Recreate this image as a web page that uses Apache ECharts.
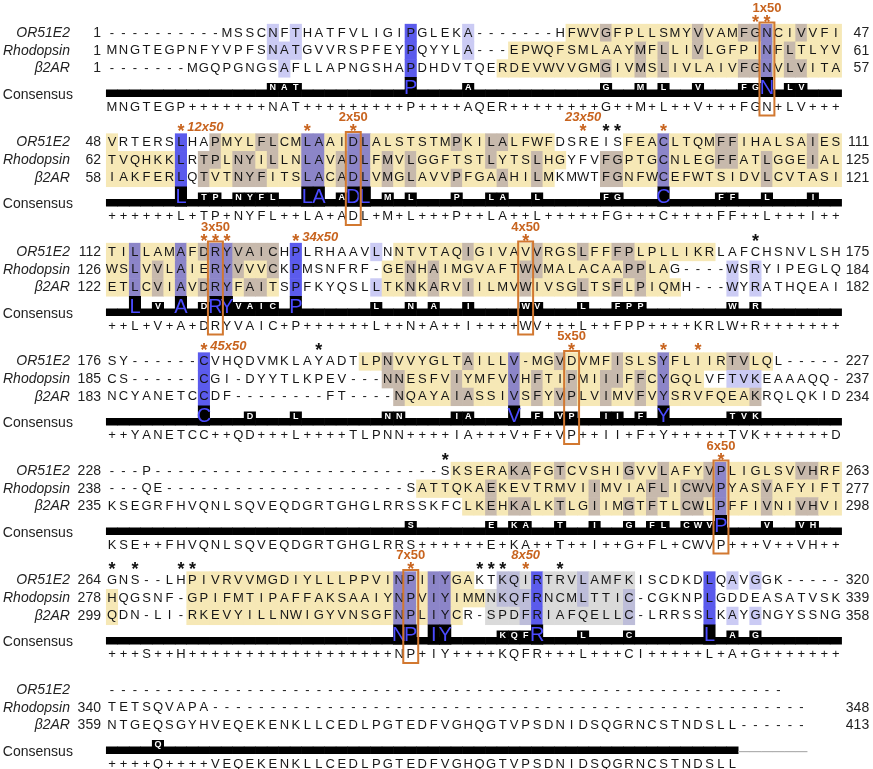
<!DOCTYPE html>
<html><head><meta charset="utf-8">
<script src="https://cdn.jsdelivr.net/npm/echarts/dist/echarts.min.js"></script>
<style>html,body{margin:0;padding:0;background:#fff}#c{width:873px;height:769px}</style>
</head><body><div id="c"></div>
<script>
// ================= DATA =================
const SEQ_NAMES = ["OR51E2", "Rhodopsin", "\u03B22AR"];
const OR51E2 = [
  "----------MSSCNFTHATFVLIGIPGLEKA-------HFWVGFPLLSMYVVAMFGNCIVVFI",
  "VRTERSLHAPMYLFLCMLAAIDLALSTSTMPKILALFWFDSREISFEACLTQMFFIHALSAIES",
  "TILLAMAFDRYVAICHPLRHAAVLNNTVTAQIGIVAVVRGSLFFFPLPLLIKRLAFCHSNVLSH",
  "SY------CVHQDVMKLAYADTLPNVVYGLTAILLV-MGVDVMFISLSYFLIIRTVLQL-----",
  "---P-------------------------SKSERAKAFGTCVSHIGVVLAFYVPLIGLSVVHRF",
  "GNS--LHPIVRVVMGDIYLLLPPVINPIIYGAKTKQIRTRVLAMFKISCDKDLQAVGGK-----",
  "-----------------------------------------------------------"
];
const RHODOPSIN = [
  "MNGTEGPNFYVPFSNATGVVRSPFEYPQYYLA---EPWQFSMLAAYMFLLIVLGFPINFLTLYV",
  "TVQHKKLRTPLNYILLNLAVADLFMVLGGFTSTLYTSLHGYFVFGPTGCNLEGFFATLGGEIAL",
  "WSLVVLAIERYVVVCKPMSNFRF-GENHAIMGVAFTWVMALACAAPPLAG----WSRYIPEGLQ",
  "CS------CGI-DYYTLKPEV---NNESFVIYMFVVHFTIPMIIIFFCYGQLVFTVKEAAAQQ-",
  "---QE---------------------SATTQKAEKEVTRMVIIMVIAFLICWVPYASVAFYIFT",
  "HQGSNF-GPIFMTIPAFFAKSAAIYNPVIYIMMNKQFRNCMLTTIC-CGKNPLGDDEASATVSK",
  "TETSQVAPA----------------------------------------------------"
];
const B2AR = [
  "-------MGQPGNGSAFLLAPNGSHAPDHDVTQERDEVWVVGMGIVMSLIVLAIVFGNVLVITA",
  "IAKFERLQTVTNYFITSLACADLVMGLAVVPFGAAHILMKMWTFGNFWCEFWTSIDVLCVTASI",
  "ETLCVIAVDRYFAITSPFKYQSLLTKNKARVIILMVWIVSGLTSFLPIQMH---WYRATHQEAI",
  "NCYANETCCDF--------FT----NQAYAIASSIVSFYVPLVIMVFVYSRVFQEAKRQLQKID",
  "KSEGRFHVQNLSQVEQDGRTGHGLRRSSKFCLKEHKALKTLGIIMGTFTLCWLPFFIVNIVHVI",
  "QDN-LI-RKEVYILLNWIGYVNSGFNPLIYCR-SPDFRIAFQELLC-LRRSSLKAYGNGYSSNG",
  "NTGEQSGYHVEQEKENKLLCEDLPGTEDFVGHQGTVPSDNIDSQGRNCSTNDSLL------"
];
const CONSENSUS = [
  "MNGTEGP+++++++NAT+++++++++P++++AQER++++++++G++M+L++V+++FGN+LV+++",
  "++++++L+TP+NYFL++LA+ADL+M+L+++P++LA++L+++++FG+++C++++FF++L+++I++",
  "++L+V+A+DRYVAIC+P++++++L++N+A++I++++WV+++L++FPP++++KRLW+R+++++++",
  "++YANETCC++QD+++L++++TLPNN++++IA+++V+F+VP++II+F+Y+++++TVK++++++D",
  "KSE++FHVQNLSQVEQDGRTGHGLRRS++++++E+KA++T++I++G+FL+CWVP+++V++VH++",
  "+++S++H++++++++++++++++++NP+IY++++KQFR+++L+++CI+++++L+A+G+++++++",
  "++++Q++++VEQEKENKLLCEDLPGTEDFVGHQGTVPSDNIDSQGRNCSTNDSLL"
];
const OR_START  = [1, 48, 112, 176, 228, 264, null];
const OR_END    = [47, 111, 175, 227, 263, 320, null];
const RHO_START = [1, 62, 126, 185, 238, 278, 340];
const RHO_END   = [61, 125, 184, 237, 277, 339, 348];
const B2_START  = [1, 58, 122, 183, 235, 299, 359];
const B2_END    = [57, 121, 182, 234, 298, 358, 413];

// transmembrane helix (yellow) column spans, per block
const OR_HELIX  = [[[41,64]], [[1,1],[10,39],[46,64]], [[1,15],[26,53]], [[23,58]], [[31,64]], [[8,32]], []];
const RHO_HELIX = [[[36,64]], [[1,6],[9,40],[44,64]], [[1,15],[25,49]], [[25,52]], [[28,64]], [[1,1],[8,33]], []];
const B2_HELIX  = [[[35,64]], [[1,6],[9,39],[44,64]], [[1,15],[25,50]], [[26,57]], [[32,64]], [[1,1],[8,31]], []];
// helix 8 (grey) column spans
const OR_H8  = [[], [], [], [], [], [[35,46]], []];
const RHO_H8 = [[], [], [], [], [], [[34,46]], []];
const B2_H8  = [[], [], [], [], [], [[34,46]], []];
// blocks / columns drawn without identity shading in the figure
const SHADED_BLOCKS = [true, true, true, true, true, true, false];
const UNSHADED_COLUMNS = [[3,13],[3,17],[4,27]];

// Ballesteros–Weinstein style labels: [block, column, text]
const BW_LABELS_ABOVE = [[0,58,"1x50"],[1,22,"2x50"],[2,10,"3x50"],[2,37,"4x50"],[3,41,"5x50"],[4,54,"6x50"],[5,27,"7x50"]];
const BW_LABELS_ITALIC_ABOVE = [[1,42,"23x50"],[5,37,"8x50"]];
const BW_LABELS_INLINE = [[1,7,"12x50"],[2,17,"34x50"],[3,9,"45x50"]];
const BW_BOXES = [[0,58],[1,22],[2,10],[2,37],[3,41],[4,54],[5,27]];
const ORANGE_STARS = [[0,57],[0,58],[1,7],[1,18],[1,22],[1,42],[1,49],[2,9],[2,10],[2,11],[2,17],[2,37],[3,9],[3,41],[3,49],[3,52],[4,54],[5,27],[5,37]];
const BLACK_STARS  = [[1,44],[1,45],[2,57],[3,19],[4,30],[5,1],[5,3],[5,7],[5,8],[5,33],[5,34],[5,35],[5,40]];

// ================= LAYOUT / STYLE =================
const LAY = {y0:33, blockStep:109.5, rowStep:17.7, consLabel:62, consText:74, bandTop:56.5, bandBot:64,
             bigTop:44, smallTop:50, smallBot:58.5, labelAbove:-25, star:-10, inline:-15, boxTop:-10.5, boxBot:82.5,
             nameX:-2.66, startX:0.04, endX:66.9, consNameX:-8.5};
const COL = {Y:'#f6e8b6', G:'#dadada', Y2:'#c7b9ac', Y3:'#8c85c8', W2:'#cbcbf4', W3:'#5b5bec', G2:'#bdbdd9', G3:'#5b5bec'};
const ORANGE = '#c8641f', BOXC = '#d27830';
const FONT = '"Liberation Sans", Arial, sans-serif';

const ROWS = [OR51E2, RHODOPSIN, B2AR];
const STARTS = [OR_START, RHO_START, B2_START];
const ENDS = [OR_END, RHO_END, B2_END];
const HELIX = [OR_HELIX, RHO_HELIX, B2_HELIX];
const H8 = [OR_H8, RHO_H8, B2_H8];
const inSpans = (sp, c) => sp.some(s => c >= s[0] && c <= s[1]);
const isRes = ch => ch && ch !== '-' && ch !== '+';

const cells = [], texts = [], band = [], logo = [], boxes = [];
for (let b = 0; b < CONSENSUS.length; b++) {
  const oy = LAY.y0 + LAY.blockStep * b;
  const cons = CONSENSUS[b];
  const width = Math.max(...ROWS.map(R => R[b].length));
  for (let r = 0; r < 3; r++) {
    const s = ROWS[r][b], y = oy + r * LAY.rowStep;
    texts.push({x: LAY.nameX, y, t: SEQ_NAMES[r], f: 'italic 14px ' + FONT, a: 'right', c: '#222'});
    if (STARTS[r][b] != null) texts.push({x: LAY.startX, y, t: String(STARTS[r][b]), f: '14px ' + FONT, a: 'right', c: '#222'});
    if (ENDS[r][b] != null) texts.push({x: LAY.endX, y, t: String(ENDS[r][b]), f: '14px ' + FONT, a: 'right', c: '#222'});
    for (let i = 0; i < s.length; i++) {
      const col = i + 1, ch = s[i];
      const bg = inSpans(HELIX[r][b], col) ? 'Y' : (inSpans(H8[r][b], col) ? 'G' : 'W');
      let n = 0;
      if (isRes(cons[i])) for (let k = 0; k < 3; k++) if (ROWS[k][b][i] === cons[i]) n++;
      const allowed = SHADED_BLOCKS[b] && !UNSHADED_COLUMNS.some(u => u[0] === b && u[1] === col);
      const lvl = (allowed && isRes(ch) && ch === cons[i] && n >= 2) ? (n === 3 ? '3' : '2') : '';
      const key = bg === 'W' ? (lvl ? 'W' + lvl : null) : bg + lvl;
      if (key) cells.push({x: col, y, c: COL[key]});
      texts.push({x: col, y, t: ch, f: '13px ' + FONT, a: 'center', c: '#161616'});
    }
  }
  // consensus
  texts.push({x: LAY.consNameX, y: oy + LAY.consLabel, t: 'Consensus', f: '14px ' + FONT, a: 'left', c: '#222'});
  for (let i = 0; i < cons.length; i++) texts.push({x: i + 1, y: oy + LAY.consText, t: cons[i], f: '13px ' + FONT, a: 'center', c: '#161616'});
  for (let i = 0; i < width; i++) {
    const any = ROWS.some(R => isRes(R[b][i]));
    band.push({x: i + 1, y0: oy + LAY.bandTop, y1: oy + LAY.bandBot, c: any ? '#000' : null, line: !any, ly: oy + 61});
    let n = 0;
    if (isRes(cons[i])) for (let k = 0; k < 3; k++) if (ROWS[k][b][i] === cons[i]) n++;
    if (n === 3) logo.push({x: i + 1, y0: oy + LAY.bigTop, y1: oy + LAY.bandBot, t: cons[i], big: true});
    else if (n === 2) logo.push({x: i + 1, y0: oy + LAY.smallTop, y1: oy + LAY.smallBot, t: cons[i], big: false});
  }
}
BW_BOXES.forEach(([b, c]) => { const oy = LAY.y0 + LAY.blockStep * b; boxes.push({x: c, y0: oy + LAY.boxTop, y1: oy + LAY.boxBot}); });
const annot = [];
BW_LABELS_ABOVE.forEach(([b, c, t]) => annot.push({x: c, y: LAY.y0 + LAY.blockStep * b + LAY.labelAbove, t, f: 'bold 13px ' + FONT, a: 'center', c: ORANGE}));
BW_LABELS_ITALIC_ABOVE.forEach(([b, c, t]) => annot.push({x: c, y: LAY.y0 + LAY.blockStep * b + LAY.labelAbove, t, f: 'italic bold 13px ' + FONT, a: 'center', c: ORANGE}));
BW_LABELS_INLINE.forEach(([b, c, t]) => annot.push({x: c + 0.55, y: LAY.y0 + LAY.blockStep * b + LAY.inline, t, f: 'italic bold 13px ' + FONT, a: 'left', c: ORANGE}));
ORANGE_STARS.forEach(([b, c]) => annot.push({x: c, y: LAY.y0 + LAY.blockStep * b + LAY.star, t: '*', f: 'bold 18px ' + FONT, a: 'center', c: ORANGE}));
BLACK_STARS.forEach(([b, c]) => annot.push({x: c, y: LAY.y0 + LAY.blockStep * b + LAY.star, t: '*', f: 'bold 18px ' + FONT, a: 'center', c: '#111'}));

// ================= CHART =================
const chart = echarts.init(document.getElementById('c'), null, {renderer: 'canvas'});
const colW = api => api.size([1, 0])[0];
const textRender = arr => (params, api) => {
  const d = arr[params.dataIndex], p = api.coord([d.x, d.y]);
  return {type: 'text', x: p[0], y: p[1], style: {text: d.t, fill: d.c, font: d.f, align: d.a, verticalAlign: 'middle'}};
};
const option = {
  animation: false,
  grid: {left: 112 - 11.49 / 2, width: 11.49 * 64, top: 0, height: 769},
  xAxis: {type: 'value', min: 0.5, max: 64.5, show: false},
  yAxis: {type: 'value', min: 0, max: 769, inverse: true, show: false},
  series: [
    {type: 'custom', clip: false, silent: true, data: cells.map(d => [d.x, d.y]), z: 1,
     renderItem: (params, api) => {
       const d = cells[params.dataIndex], p = api.coord([d.x, d.y]), w = colW(api), h = api.size([0, LAY.rowStep])[1];
       return {type: 'rect', shape: {x: p[0] - w / 2 - 0.3, y: p[1] - h / 2 - 0.3, width: w + 0.6, height: h + 0.6}, style: {fill: d.c}};
     }},
    {type: 'custom', clip: false, silent: true, data: band.map(d => [d.x, d.y0]), z: 2,
     renderItem: (params, api) => {
       const d = band[params.dataIndex], p0 = api.coord([d.x, d.y0]), p1 = api.coord([d.x, d.y1]), w = colW(api);
       if (d.line) { const pl = api.coord([d.x, d.ly]); return {type: 'rect', shape: {x: p0[0] - w / 2, y: pl[1], width: w + 0.3, height: 1.2}, style: {fill: '#b0b0b0'}}; }
       return {type: 'rect', shape: {x: p0[0] - w / 2 - 0.3, y: p0[1], width: w + 0.6, height: p1[1] - p0[1]}, style: {fill: d.c}};
     }},
    {type: 'custom', clip: false, silent: true, data: logo.map(d => [d.x, d.y0]), z: 3,
     renderItem: (params, api) => {
       const d = logo[params.dataIndex], p0 = api.coord([d.x, d.y0]), p1 = api.coord([d.x, d.y1]), w = colW(api);
       return {type: 'group', children: [
         {type: 'rect', shape: {x: p0[0] - w / 2 - 0.3, y: p0[1], width: w + 0.6, height: p1[1] - p0[1]}, style: {fill: '#000'}},
         {type: 'text', x: p0[0], y: (p0[1] + p1[1]) / 2 + (d.big ? 1 : 0.5),
          style: {text: d.t, fill: d.big ? '#4b4bff' : '#ffffff', font: (d.big ? '20px ' : 'bold 9px ') + FONT, align: 'center', verticalAlign: 'middle'}}
       ]};
     }},
    {type: 'custom', clip: false, silent: true, data: texts.map(d => [d.x, d.y]), z: 4, renderItem: textRender(texts)},
    {type: 'custom', clip: false, silent: true, data: boxes.map(d => [d.x, d.y0]), z: 5,
     renderItem: (params, api) => {
       const d = boxes[params.dataIndex], p0 = api.coord([d.x, d.y0]), p1 = api.coord([d.x, d.y1]), w = colW(api) * 1.3;
       return {type: 'rect', shape: {x: p0[0] - w / 2, y: p0[1], width: w, height: p1[1] - p0[1]}, style: {fill: 'none', stroke: BOXC, lineWidth: 2}};
     }},
    {type: 'custom', clip: false, silent: true, data: annot.map(d => [d.x, d.y]), z: 6, renderItem: textRender(annot)}
  ]
};
chart.setOption(option);
</script>
</body></html>
